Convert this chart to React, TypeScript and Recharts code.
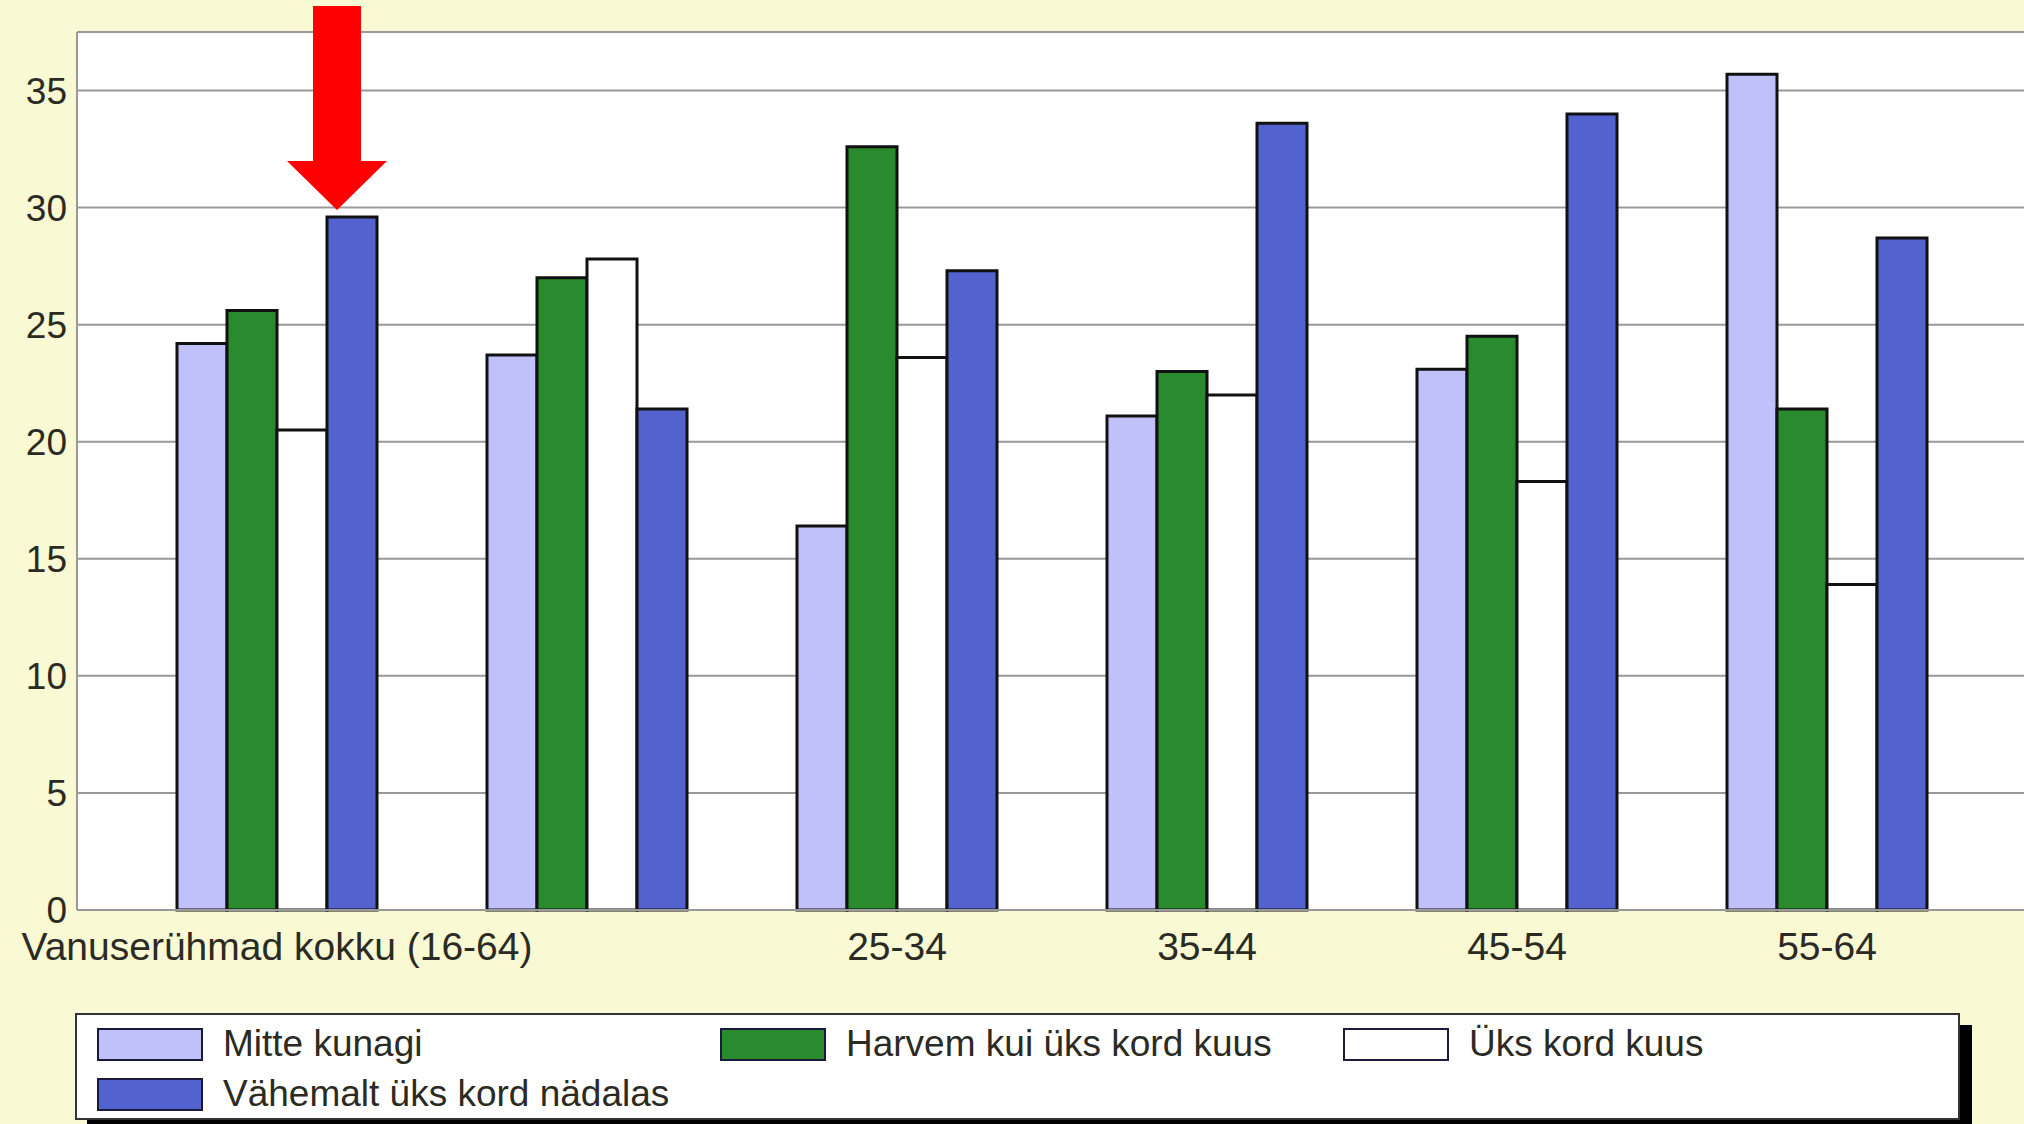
import { Bar, BarChart, CartesianGrid, Legend, ReferenceDot, ReferenceLine, XAxis, YAxis } from "recharts";

const categories = ["Vanuserühmad kokku (16-64)", "16-24", "25-34", "35-44", "45-54", "55-64"];
const tickLabels = ["Vanuserühmad kokku (16-64)", "25-34", "35-44", "45-54", "55-64"];
const seriesNames = ["Mitte kunagi", "Harvem kui üks kord kuus", "Üks kord kuus", "Vähemalt üks kord nädalas"];
const mitteKunagi = [24.2, 23.7, 16.4, 21.1, 23.1, 35.7];
const harvem = [25.6, 27.0, 32.6, 23.0, 24.5, 21.4];
const yksKord = [20.5, 27.8, 23.6, 22.0, 18.3, 13.9];
const vahemalt = [29.6, 21.4, 27.3, 33.6, 34.0, 28.7];
const yTicks = [0, 5, 10, 15, 20, 25, 30, 35];
const yMax = 37.5;
const arrowTarget = 29.9;

const data = categories.map((c, i) => ({
  cat: c,
  mitte: mitteKunagi[i],
  harvem: harvem[i],
  yks: yksKord[i],
  vahemalt: vahemalt[i],
}));

const font = "'Liberation Sans', Arial, sans-serif";
const textColor = "#2b2b24";

function Arrow(props: any) {
  const { cx, cy } = props;
  const x = cx + 60;
  const y = cy;
  const pts = [
    [x, y],
    [x - 50, y - 49],
    [x - 24, y - 49],
    [x - 24, y - 204],
    [x + 24, y - 204],
    [x + 24, y - 49],
    [x + 50, y - 49],
  ]
    .map((p) => p.join(","))
    .join(" ");
  return <polygon points={pts} fill="#ff0000" />;
}

function LegendBox({ payload }: any) {
  const items = [...(payload || [])].sort(
    (a: any, b: any) => seriesNames.indexOf(a.value) - seriesNames.indexOf(b.value)
  );
  return (
    <div
      style={{
        width: 1885,
        height: 107,
        border: "2px solid #333",
        background: "#fff",
        boxShadow: "12px 12px 0 #000",
        display: "flex",
        flexWrap: "wrap",
        alignContent: "flex-start",
        paddingTop: 4,
        boxSizing: "border-box",
        fontFamily: font,
        fontSize: 37,
        color: textColor,
      }}
    >
      {items.map((p: any) => (
        <div key={p.value} style={{ width: 623, height: 50, display: "flex", alignItems: "center" }}>
          <div
            style={{
              width: 106,
              height: 33,
              marginLeft: 20,
              marginRight: 20,
              background: p.color,
              border: "2px solid #1a1a3a",
              boxSizing: "border-box",
            }}
          />
          <span style={{ whiteSpace: "nowrap" }}>{p.value}</span>
        </div>
      ))}
    </div>
  );
}

export default function App() {
  return (
    <div
      style={{
        position: "absolute",
        left: 0,
        top: 0,
        width: 2024,
        height: 1124,
        overflow: "hidden",
        background: "#f9f9d3",
      }}
    >
      <BarChart
        width={2060}
        height={1124}
        data={data}
        margin={{ top: 32, right: 0, left: 0, bottom: 154 }}
        barGap={0}
      >
        <CartesianGrid vertical={false} stroke="#999999" strokeWidth={2} fill="#ffffff" />
        <XAxis
          dataKey="cat"
          ticks={tickLabels}
          interval={0}
          height={60}
          padding={{ left: 45, right: 78 }}
          axisLine={{ stroke: "#999999", strokeWidth: 2 }}
          tickLine={false}
          tickSize={0}
          tickMargin={22}
          tick={{ fill: textColor, fontSize: 39, fontFamily: font }}
        />
        <YAxis
          width={77}
          domain={[0, yMax]}
          ticks={yTicks}
          axisLine={{ stroke: "#999999", strokeWidth: 2 }}
          tickLine={false}
          tickSize={0}
          tickMargin={10}
          tick={{ fill: textColor, fontSize: 37, fontFamily: font }}
        />
        <ReferenceLine y={yMax} stroke="#999999" strokeWidth={2} />
        <Legend
          layout="horizontal"
          verticalAlign="middle"
          align="center"
          content={<LegendBox />}
          wrapperStyle={{ left: 75, top: 1013, width: 1897, height: 119 }}
        />
        <Bar dataKey="mitte" name={seriesNames[0]} fill="#c0c0fa" stroke="#111" strokeWidth={3} barSize={50} isAnimationActive={false} />
        <Bar dataKey="harvem" name={seriesNames[1]} fill="#2a8a2e" stroke="#111" strokeWidth={3} barSize={50} isAnimationActive={false} />
        <Bar dataKey="yks" name={seriesNames[2]} fill="#ffffff" stroke="#111" strokeWidth={3} barSize={50} isAnimationActive={false} />
        <Bar dataKey="vahemalt" name={seriesNames[3]} fill="#5263cf" stroke="#111" strokeWidth={3} barSize={50} isAnimationActive={false} />
        <ReferenceDot x={categories[0]} y={arrowTarget} ifOverflow="visible" shape={<Arrow />} />
      </BarChart>
    </div>
  );
}
